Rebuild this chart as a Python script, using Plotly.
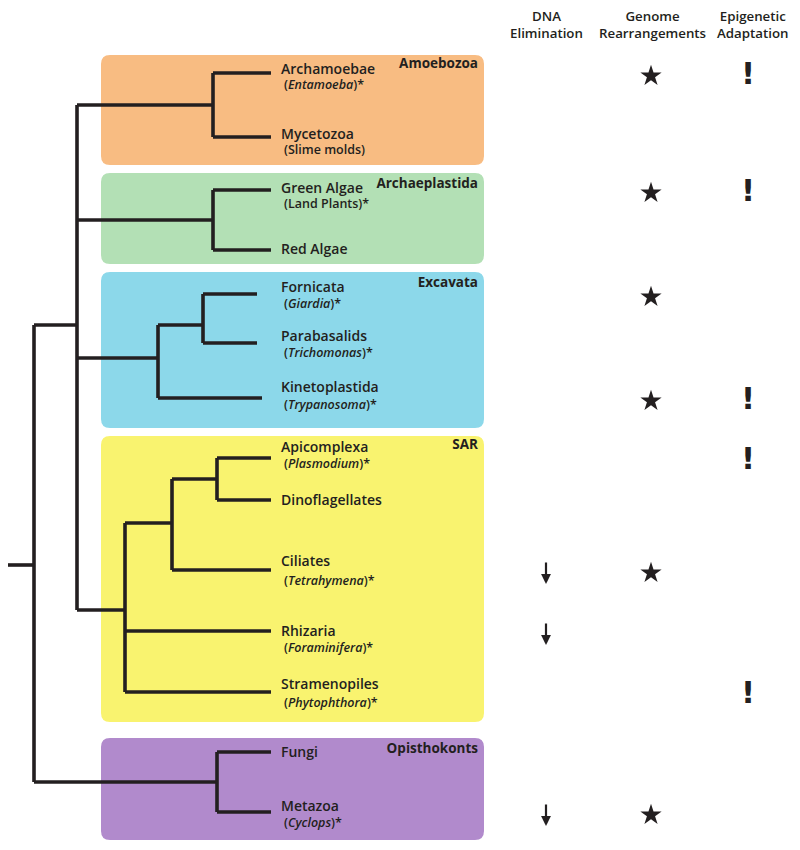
import plotly.graph_objects as go

# ---------------- data ----------------
taxa = ["Archamoebae", "Mycetozoa", "Green Algae", "Red Algae", "Fornicata",
        "Parabasalids", "Kinetoplastida", "Apicomplexa", "Dinoflagellates",
        "Ciliates", "Rhizaria", "Stramenopiles", "Fungi", "Metazoa"]
subtitles = ["(<i>Entamoeba</i>)*", "(Slime molds)", "(Land Plants)*", "",
             "(<i>Giardia</i>)*", "(<i>Trichomonas</i>)*", "(<i>Trypanosoma</i>)*",
             "(<i>Plasmodium</i>)*", "", "(<i>Tetrahymena</i>)*",
             "(<i>Foraminifera</i>)*", "(<i>Phytophthora</i>)*", "", "(<i>Cyclops</i>)*"]
tip_parent = ["amoeb", "amoeb", "archae", "archae", "fornpara", "fornpara", "excav",
              "apidino", "apidino", "apidinocil", "sar", "sar", "opis", "opis"]

node_names = ["root", "euk", "amoeb", "archae", "excav", "fornpara", "sar",
              "apidinocil", "apidino", "opis"]
node_parent = [None, "root", "euk", "euk", "euk", "excav", "euk",
               "sar", "apidinocil", "root"]

groups = ["Amoebozoa", "Archaeplastida", "Excavata", "SAR", "Opisthokonts"]

columns = ["DNA<br>Elimination", "Genome<br>Rearrangements", "Epigenetic<br>Adaptation"]
dna_elimination = ["Ciliates", "Rhizaria", "Metazoa"]
genome_rearrangements = ["Archamoebae", "Green Algae", "Fornicata", "Kinetoplastida",
                         "Ciliates", "Metazoa"]
epigenetic_adaptation = ["Archamoebae", "Green Algae", "Kinetoplastida",
                         "Apicomplexa", "Stramenopiles"]

# ---------------- layout (pixel positions) ----------------
tip_y = [73, 137, 190, 250, 294, 343, 398, 458, 500, 570, 631, 692, 752, 812]
tip_end = [271, 271, 271, 271, 257, 257, 262, 271, 271, 271, 271, 271, 271, 271]
label_y = [70, 135, 189, 250, 288, 337, 388, 448, 501, 562, 632, 685, 753, 807]
sub_y = [86, 151, 205, None, 305, 354, 406, 465, None, 582, 649, 704, None, 824]
node_x = [34, 77, 213, 213, 158, 203, 125, 172, 217, 217]
node_y = [565, 325, 105, 220, 358, 325, 610, 523, 479, 782]
root_stem_x = 8

box_y0 = [55, 173, 272, 436, 738]
box_y1 = [165, 264, 428, 722, 840]
box_x0, box_x1 = 101, 484
box_colors = ["#F8BC82", "#B3E0B5", "#8CD8EA", "#F9F36F", "#B18ACC"]
group_y = [65, 185, 284, 446, 750]
col_x = [546, 652, 753]
sym_dy = {"star": 3, "excl": 3, "arrow": 3}

LINE = "#231F20"
PAGE_OFF = 8  # default body margin of the html page

fig = go.Figure()

# boxes with rounded corners
r = 9
for y0, y1, c in zip(box_y0, box_y1, box_colors):
    x0, x1 = box_x0, box_x1
    path = (f"M {x0+r},{y0} L {x1-r},{y0} Q {x1},{y0} {x1},{y0+r} "
            f"L {x1},{y1-r} Q {x1},{y1} {x1-r},{y1} L {x0+r},{y1} "
            f"Q {x0},{y1} {x0},{y1-r} L {x0},{y0+r} Q {x0},{y0} {x0+r},{y0} Z")
    fig.add_shape(type="path", path=path, fillcolor=c, line=dict(width=0),
                  layer="below")

# tree segments
pos = {n: (x, y) for n, x, y in zip(node_names, node_x, node_y)}
children = {n: [] for n in node_names}
for n, p in zip(node_names, node_parent):
    if p is not None:
        children[p].append(pos[n])
for t, p, y, xe in zip(taxa, tip_parent, tip_y, tip_end):
    children[p].append((xe, y))

xs, ys = [], []
for n in node_names:
    px, py = pos[n]
    cy = [c[1] for c in children[n]]
    xs += [px, px, None]
    ys += [min(cy), max(cy), None]
    for cx, cyy in children[n]:
        xs += [px, cx, None]
        ys += [cyy, cyy, None]
rx, ry = pos["root"]
xs += [root_stem_x, rx, None]
ys += [ry, ry, None]

fig.add_trace(go.Scatter(x=xs, y=ys, mode="lines",
                         line=dict(color=LINE, width=3.6),
                         hoverinfo="skip", showlegend=False))

# tip labels
fig.add_trace(go.Scatter(x=[281] * len(taxa), y=label_y, mode="text", text=taxa,
                         textposition="middle right",
                         textfont=dict(family="Open Sans", size=14, color=LINE, weight=600),
                         hoverinfo="skip", showlegend=False))
sx = [284 for s in subtitles if s]
sy = [y for s, y in zip(subtitles, sub_y) if s]
st = [s for s in subtitles if s]
fig.add_trace(go.Scatter(x=sx, y=sy, mode="text", text=st,
                         textposition="middle right",
                         textfont=dict(family="Open Sans", size=12.5, color=LINE, weight=600),
                         hoverinfo="skip", showlegend=False))

# group labels
fig.add_trace(go.Scatter(x=[478] * len(groups), y=group_y, mode="text", text=groups,
                         textposition="middle left",
                         textfont=dict(family="Open Sans", size=13.5, color=LINE, weight=700),
                         hoverinfo="skip", showlegend=False))

# column headers
for cx, ct in zip(col_x, columns):
    fig.add_annotation(x=cx, y=24, text=ct, showarrow=False,
                       font=dict(family="Open Sans", size=13.3, color=LINE, weight=600),
                       xanchor="center", yanchor="middle")

ymap = dict(zip(taxa, tip_y))

# stars
fig.add_trace(go.Scatter(x=[col_x[1] - 1] * len(genome_rearrangements),
                         y=[ymap[t] + sym_dy["star"] for t in genome_rearrangements],
                         mode="markers",
                         marker=dict(symbol="star", size=16, color=LINE, line=dict(width=0)),
                         hoverinfo="skip", showlegend=False))

# exclamation marks
fig.add_trace(go.Scatter(x=[col_x[2] - 5] * len(epigenetic_adaptation),
                         y=[ymap[t] + sym_dy["excl"] for t in epigenetic_adaptation],
                         mode="text", text=["!"] * len(epigenetic_adaptation),
                         textposition="middle center",
                         textfont=dict(family="DejaVu Sans", size=31, color=LINE, weight=900),
                         hoverinfo="skip", showlegend=False))

# arrows
for t in dna_elimination:
    yy = ymap[t] + sym_dy["arrow"]
    fig.add_annotation(x=col_x[0], y=yy + 11, ax=0, ay=-23, text="",
                       showarrow=True, arrowhead=2, arrowsize=0.9, arrowwidth=2.2,
                       arrowcolor=LINE, axref="pixel", ayref="pixel")

fig.update_layout(
    width=800, height=850,
    margin=dict(l=0, r=0, t=0, b=0),
    paper_bgcolor="white", plot_bgcolor="white",
    xaxis=dict(range=[PAGE_OFF, 800 + PAGE_OFF], visible=False, fixedrange=True),
    yaxis=dict(range=[850 + PAGE_OFF, PAGE_OFF], visible=False, fixedrange=True),
    showlegend=False,
)

fig.write_html("out.html")
